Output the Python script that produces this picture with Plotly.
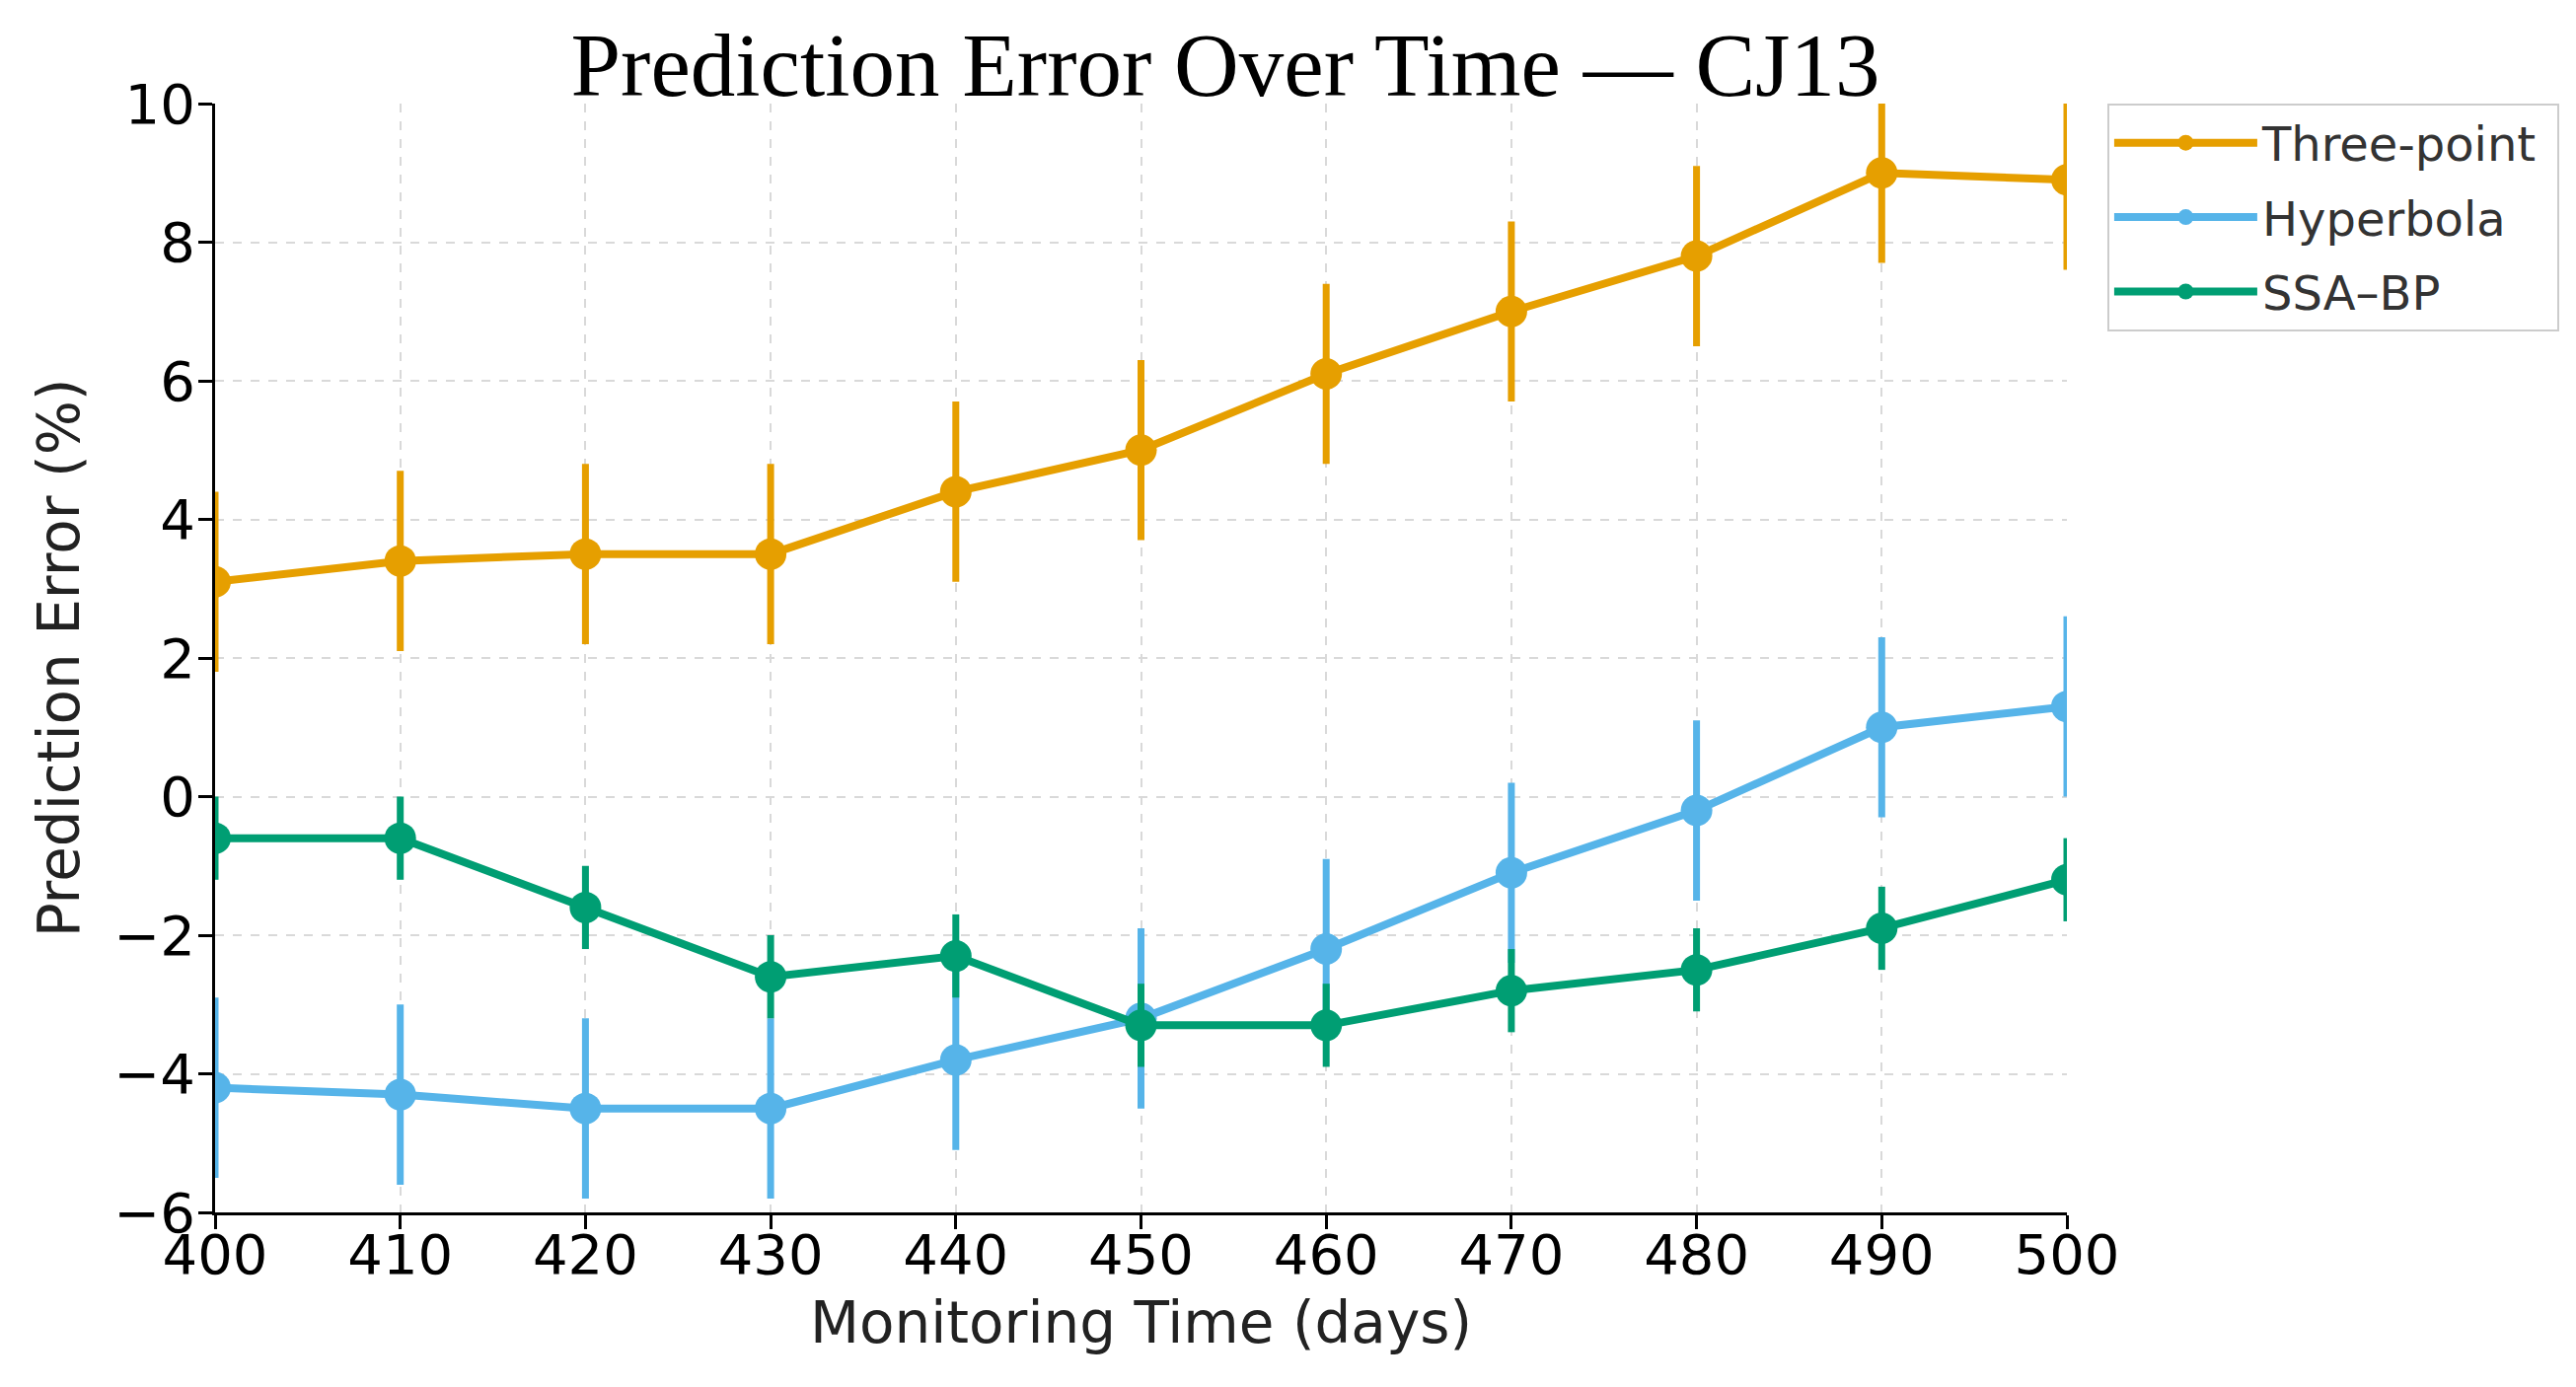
import plotly.graph_objects as go

days = [400, 410, 420, 430, 440, 450, 460, 470, 480, 490, 500]
three_point = [3.1, 3.4, 3.5, 3.5, 4.4, 5.0, 6.1, 7.0, 7.8, 9.0, 8.9]
three_point_err = [1.3] * 11
hyperbola = [-4.2, -4.3, -4.5, -4.5, -3.8, -3.2, -2.2, -1.1, -0.2, 1.0, 1.3]
hyperbola_err = [1.3] * 11
ssa_bp = [-0.6, -0.6, -1.6, -2.6, -2.3, -3.3, -3.3, -2.8, -2.5, -1.9, -1.2]
ssa_bp_err = [0.6] * 11

series = [
    ("Three-point", three_point, three_point_err, "#E69F00"),
    ("Hyperbola", hyperbola, hyperbola_err, "#56B4E9"),
    ("SSA–BP", ssa_bp, ssa_bp_err, "#009E73"),
]

fig = go.Figure()
for name, vals, errs, color in series:
    fig.add_trace(go.Scatter(
        x=days, y=vals, name=name + " ", mode="lines+markers", legendgroup=name,
        line=dict(color=color, width=8),
        marker=dict(color=color, size=32),
        error_y=dict(type="data", array=errs, visible=True, color=color,
                     thickness=7, width=0),
        cliponaxis=True,
    ))

W, H = 2611, 1406
L, T = 210, 97
PW, PH = 1877, 1124
R = W - L - PW
B = H - T - PH

fig.update_layout(
    width=W, height=H,
    margin=dict(l=L, r=R, t=T, b=B),
    paper_bgcolor="white", plot_bgcolor="white",
    title=dict(text="Prediction Error Over Time — CJ13",
               font=dict(family="Liberation Serif", size=91, color="black"),
               x=1234 / W, xanchor="center", xref="container",
               y=1 - 57 / H, yanchor="middle", yref="container"),
    font=dict(family="DejaVu Sans", color="black"),
    legend=dict(x=1.0218, y=1.0, xanchor="left", yanchor="top",
                font=dict(family="DejaVu Sans", size=48, color="#333333"),
                bordercolor="#cccccc", borderwidth=2, bgcolor="white",
                itemwidth=145, tracegroupgap=10),
    showlegend=True,
)
fig.update_xaxes(
    range=[400, 500], tickmode="array", tickvals=days,
    ticks="outside", ticklen=14, tickwidth=3, tickcolor="black",
    showline=True, linecolor="black", linewidth=3, mirror=False,
    showgrid=True, gridcolor="#d9d9d9", griddash="dash", gridwidth=2,
    zeroline=False, ticklabelstandoff=-22,
    tickfont=dict(family="DejaVu Sans", size=56, color="black"),
    title=dict(text="Monitoring Time (days)", standoff=18,
               font=dict(family="DejaVu Sans", size=58, color="#222222")),
)
fig.update_yaxes(
    range=[-6, 10], tickmode="array", tickvals=list(range(-6, 11, 2)),
    ticktext=["−6", "−4", "−2", "0", "2", "4", "6", "8", "10"],
    ticks="outside", ticklen=14, tickwidth=3, tickcolor="black",
    showline=True, linecolor="black", linewidth=3, mirror=False,
    showgrid=True, gridcolor="#d9d9d9", griddash="dash", gridwidth=2,
    zeroline=False, ticklabelstandoff=-8,
    tickfont=dict(family="DejaVu Sans", size=56, color="black"),
    title=dict(text="Prediction Error (%)", standoff=16,
               font=dict(family="DejaVu Sans", size=58, color="#222222")),
)

fig.write_html("out.html")
